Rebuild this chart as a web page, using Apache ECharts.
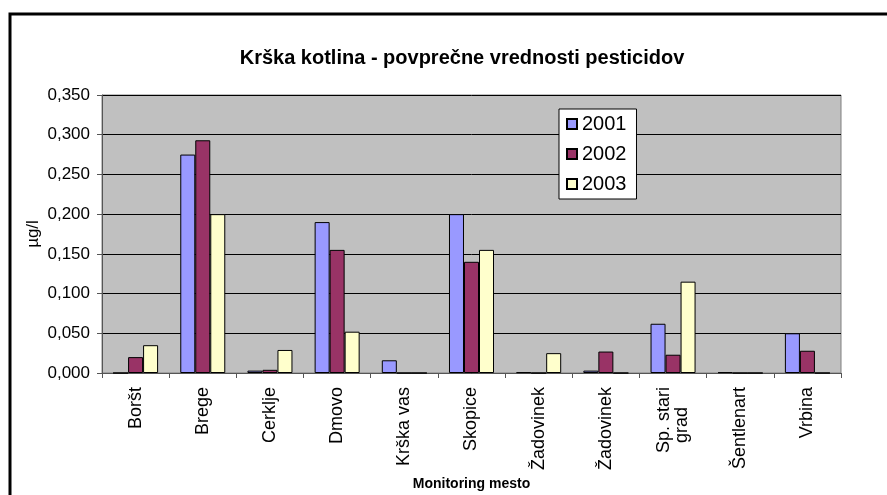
<!DOCTYPE html>
<html>
<head>
<meta charset="utf-8">
<script src="https://cdn.jsdelivr.net/npm/echarts@6/dist/echarts.min.js"></script>
<style>
  html, body { margin: 0; padding: 0; background: #fff; }
  #chart { width: 887px; height: 495px; }
</style>
</head>
<body>
<div id="chart"></div>
<script>
// merilna mesta
const categories = ['Boršt', 'Brege', 'Cerklje', 'Dmovo', 'Krška vas', 'Skopice',
  'Žadovinek', 'Žadovinek', 'Sp. stari\ngrad    ', 'Šentlenart', 'Vrbina'];
// povprečne vrednosti (µg/l)
const values2001 = [0.000, 0.275, 0.003, 0.190, 0.016, 0.200, 0.001, 0.003, 0.062, 0.001, 0.050];
const values2002 = [0.020, 0.293, 0.004, 0.155, 0.000, 0.140, 0.000, 0.027, 0.023, 0.000, 0.028];
const values2003 = [0.035, 0.200, 0.029, 0.052, 0.000, 0.155, 0.025, 0.000, 0.115, 0.000, 0.000];
const years = ['2001', '2002', '2003'];
const colors = ['#9999FF', '#993366', '#FFFFCC'];

const chart = echarts.init(document.getElementById('chart'), null, { renderer: 'canvas' });

const barSeries = (name, data, color) => ({
  name: name,
  type: 'bar',
  data: data,
  barGap: '0%',
  barCategoryGap: '33%',
  itemStyle: { color: color, borderColor: '#000', borderWidth: 1 },
  emphasis: { disabled: true }
});

const option = {
  animation: false,
  textStyle: { fontFamily: 'Liberation Sans, Arial, sans-serif' },
  title: {
    text: 'Krška kotlina - povprečne vrednosti pesticidov',
    left: 457,
    textAlign: 'center',
    top: 43,
    textStyle: { fontSize: 20, fontWeight: 'bold', color: '#000' }
  },
  legend: {
    data: years,
    orient: 'vertical',
    left: 559,
    top: 109,
    padding: [5, 10, 5, 7],
    itemWidth: 10,
    itemHeight: 10,
    itemGap: 10,
    backgroundColor: '#fff',
    borderColor: '#000',
    borderWidth: 1,
    borderRadius: 0,
    icon: 'rect',
    textStyle: { fontSize: 20, color: '#000' }
  },
  grid: {
    left: 102,
    top: 95,
    width: 739,
    height: 278,
    show: true,
    backgroundColor: '#C0C0C0',
    borderColor: '#808080',
    borderWidth: 1,
    containLabel: false,
    outerBoundsMode: 'none'
  },
  xAxis: {
    type: 'category',
    data: categories,
    name: 'Monitoring mesto',
    nameLocation: 'middle',
    nameGap: 104,
    nameMoveOverlap: false,
    nameTextStyle: { fontSize: 14, fontWeight: 'bold', color: '#000' },
    axisLine: { lineStyle: { color: '#555', width: 1 } },
    axisTick: { show: true, length: 5, inside: false, lineStyle: { color: '#555' } },
    axisLabel: { rotate: 90, margin: 14, fontSize: 18, color: '#000', lineHeight: 18, interval: 0 }
  },
  yAxis: {
    type: 'value',
    min: 0,
    max: 0.35,
    interval: 0.05,
    name: 'µg/l',
    nameLocation: 'middle',
    nameGap: 60,
    nameMoveOverlap: false,
    nameTextStyle: { fontSize: 17, color: '#000' },
    axisLine: { show: true, lineStyle: { color: '#555', width: 1 } },
    axisTick: { show: true, length: 5, lineStyle: { color: '#555' } },
    axisLabel: {
      fontSize: 17,
      color: '#000',
      margin: 12,
      formatter: v => v.toFixed(3).replace('.', ',')
    },
    splitLine: { show: true, lineStyle: { color: '#000', width: 1 } }
  },
  graphic: [
    {
      type: 'rect',
      shape: { x: 10, y: 14, width: 900, height: 520 },
      style: { fill: 'none', stroke: '#000', lineWidth: 3 },
      silent: true
    }
  ],
  series: [
    barSeries(years[0], values2001, colors[0]),
    barSeries(years[1], values2002, colors[1]),
    barSeries(years[2], values2003, colors[2])
  ]
};

chart.setOption(option);
</script>
</body>
</html>
